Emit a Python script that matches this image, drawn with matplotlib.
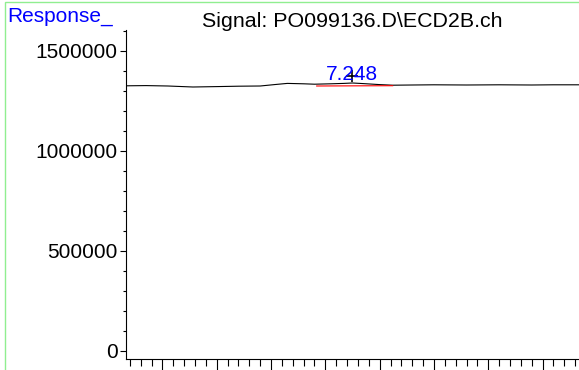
import matplotlib
matplotlib.use("Agg")
import matplotlib.pyplot as plt
from matplotlib.patches import Rectangle
from matplotlib.ticker import MultipleLocator, NullFormatter, FormatStrFormatter

plt.rcParams['font.family'] = ['Liberation Sans', 'DejaVu Sans']

# ECD2B trace, retention time (min) vs. response
time_min = [5.17, 5.35, 5.55, 5.78, 6.00, 6.20, 6.40, 6.55, 6.65, 6.80, 6.90,
            7.05, 7.17, 7.25, 7.35, 7.50, 7.62, 7.80, 8.00, 8.30, 8.60, 8.90,
            9.10, 9.34]
response = [1326000, 1327000, 1325000, 1320000, 1322000, 1324000, 1325000,
            1333000, 1338000, 1336000, 1334000, 1336000, 1338000, 1340000,
            1337000, 1332000, 1329000, 1330000, 1331000, 1330000, 1331000,
            1330000, 1331000, 1331000]

# integrated peak
peak_rt = 7.248
peak_mark = 1376000
baseline_t = [6.92, 7.62]
baseline_v = [1325000, 1326500]

fig = plt.figure(figsize=(5.79, 3.70), dpi=100)
ax = fig.add_axes([126 / 579, 11 / 370, 453 / 579, 329 / 370])

ax.plot(time_min, response, color='black', lw=0.8)
ax.plot(baseline_t, baseline_v, color='red', lw=0.8)
ax.plot([peak_rt], [peak_mark], marker='+', color='black', ms=8, mew=1.2)
ax.text(peak_rt, 1355000, f"{peak_rt:.3f}", color='blue', fontsize=15,
        ha='center', va='baseline')

ax.set_xlim(5.164, 9.336)
ax.set_ylim(-40000, 1605000)

ax.spines['top'].set_visible(False)
ax.spines['right'].set_visible(False)
for s in ('left', 'bottom'):
    ax.spines[s].set_linewidth(0.8)

ax.yaxis.set_major_locator(MultipleLocator(500000))
ax.yaxis.set_minor_locator(MultipleLocator(100000))
ax.yaxis.set_major_formatter(FormatStrFormatter('%d'))
ax.xaxis.set_major_locator(MultipleLocator(0.5))
ax.xaxis.set_minor_locator(MultipleLocator(0.1))
ax.xaxis.set_major_formatter(NullFormatter())
ax.tick_params(axis='y', which='major', length=4, width=0.8, labelsize=15, pad=2)
ax.tick_params(axis='y', which='minor', length=2.5, width=0.8)
ax.tick_params(axis='x', which='major', length=12, width=0.8)
ax.tick_params(axis='x', which='minor', length=5, width=0.8)

fig.text(352.5 / 579, 1 - 27 / 370, "Signal: PO099136.D\\ECD2B.ch",
         ha='center', va='baseline', fontsize=15.4)
fig.text(7 / 579, 1 - 22 / 370, "Response_", color='blue',
         ha='left', va='baseline', fontsize=15)

# light green frame around the page
fig.patches.append(Rectangle((5 / 579, -0.1), 1.2, 1 - 2 / 370 + 0.1,
                             transform=fig.transFigure, fill=False,
                             edgecolor='#90EE90', lw=1))

fig.savefig('out.png', dpi=100)
